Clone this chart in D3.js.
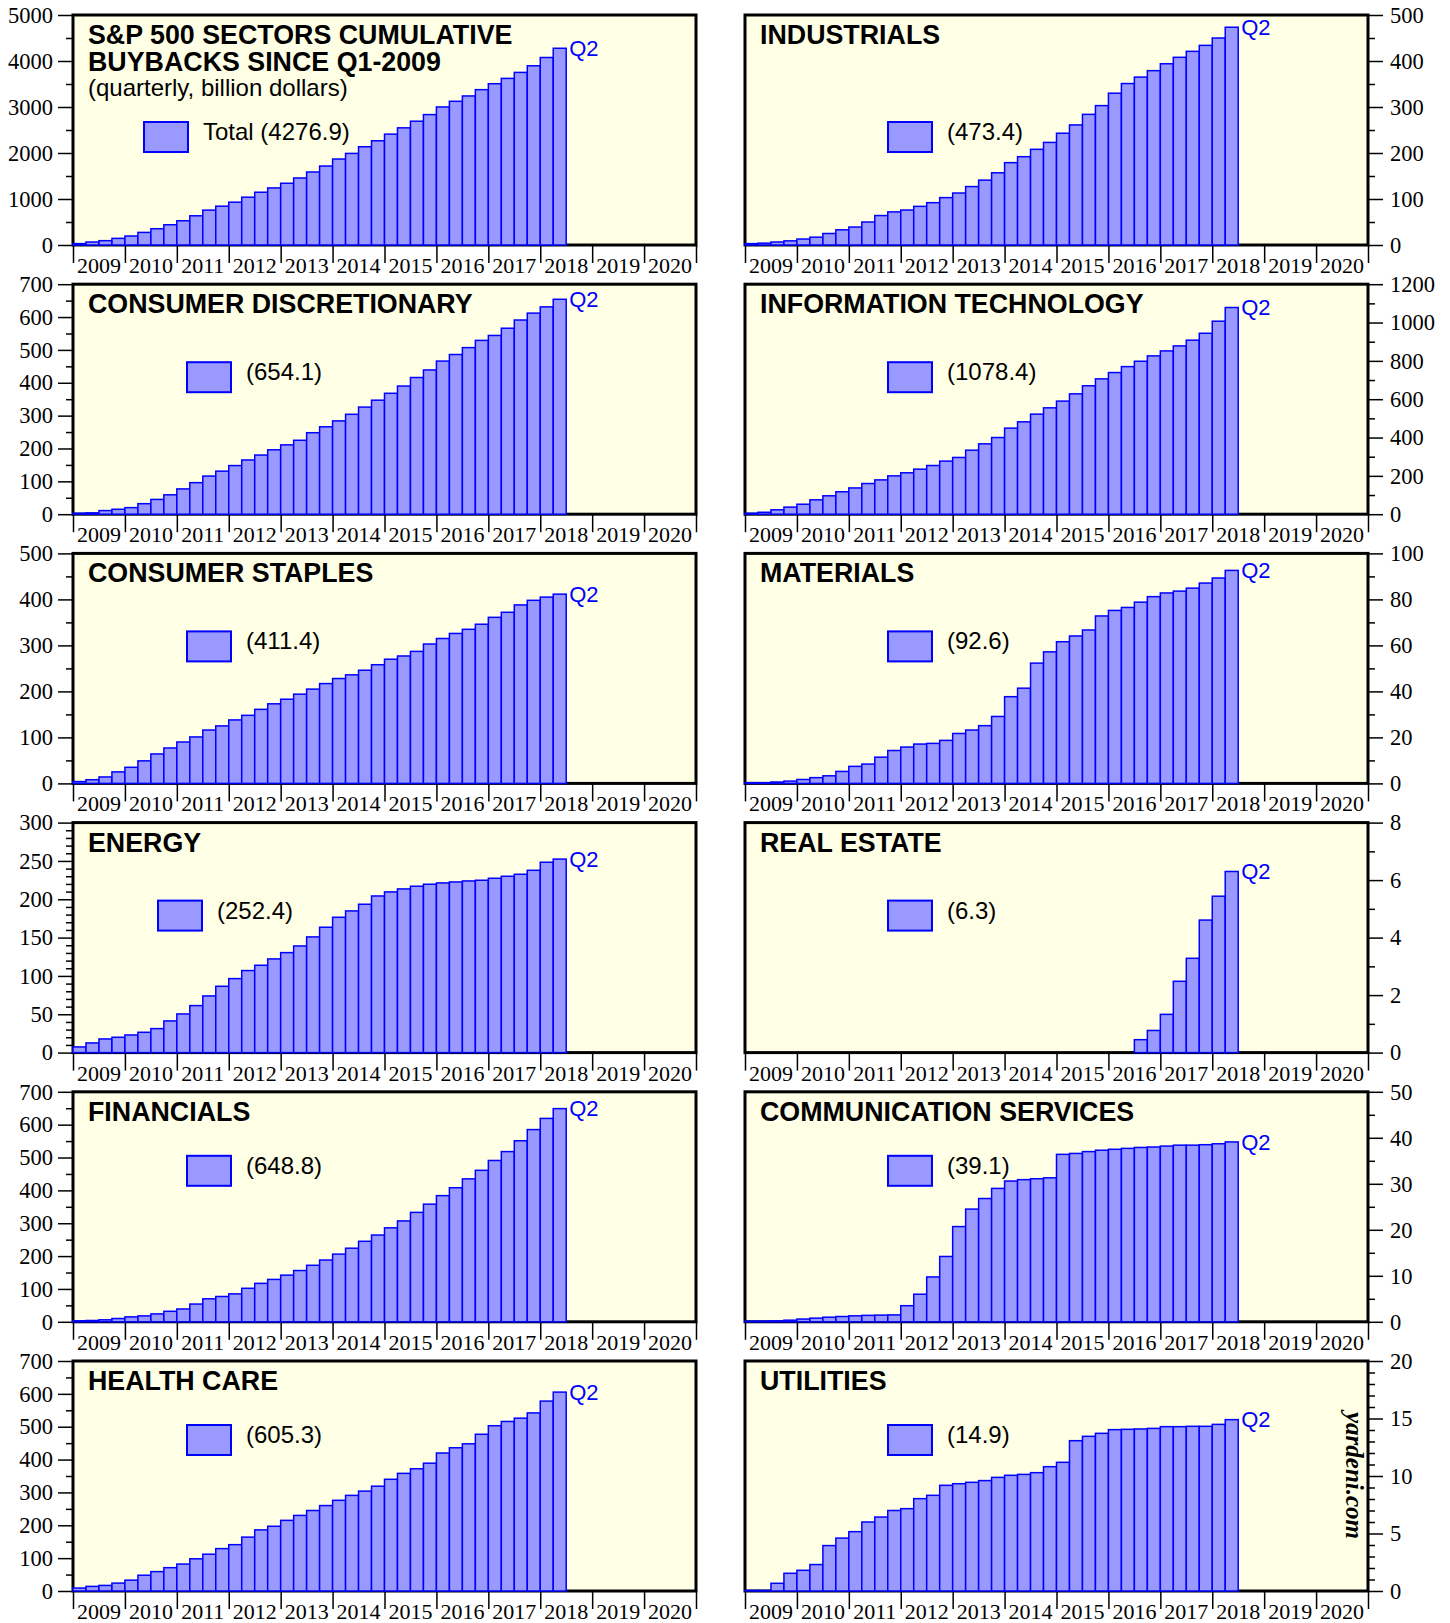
<!DOCTYPE html>
<html><head><meta charset="utf-8">
<script src="https://cdn.jsdelivr.net/npm/d3@7"></script>
<style>body{margin:0;background:#fff}svg{display:block}</style>
</head><body>
<script>
// ---- DATA (cumulative buybacks, billion $, Q1-2009 .. Q2-2018) ----
const years = [2009,2010,2011,2012,2013,2014,2015,2016,2017,2018,2019,2020];
const total = [30,65,94,144,195,274,354,440,527,635,758,844,931,1039,1147,1241,1342,1457,1587,1717,1869,1991,2136,2266,2410,2547,2691,2835,3001,3124,3240,3377,3506,3622,3752,3896,4076,4276.9];
const industrials = [3,4,6.5,9,13,17,25,33,39,50,64,72,76,84,92,103,113,127,141,157,179,192,208,223,243,261,284,303,330,351,365,379,394,408,421,434,450,473.4];
const consDisc = [3,4,11,15,20,32,45,59,77,96,116,131,148,165,180,196,211,225,248,266,284,304,326,347,368,390,416,439,466,486,507,529,544,566,591,612,631,654.1];
const infoTech = [5,10,23,37,52,75,96,117,137,160,179,200,216,235,254,277,296,334,367,400,449,482,522,555,590,628,670,706,739,770,798,826,852,878,908,944,1007,1078.4];
const consStaples = [4,8,14,25,35,49,64,77,90,101,116,125,138,148,161,173,183,194,205,217,228,236,246,258,270,277,287,303,315,326,335,346,361,372,388,398,405,411.4];
const materials = [0.3,0.3,0.6,1.0,1.7,2.5,3.3,5.2,7.4,8.4,11.4,14.3,15.8,17.1,17.4,18.7,21.7,23.2,25.1,29.1,37.7,41.4,52.3,57.2,61.6,64.1,66.7,72.8,75.2,76.5,78.8,81.2,82.8,83.6,84.9,87.1,89.3,92.6];
const energy = [7.4,12.6,17.8,20,23,26.5,31.3,41.3,50.4,61.3,73.9,86.5,96.5,107,113.9,122.2,130.4,139.1,150.9,163.5,176.5,184.8,193.5,204.3,209.6,213.5,217,219.6,221.3,222.6,223.9,224.8,227.4,230,232.6,237.8,248.3,252.4];
const realEstate = [null,null,null,null,null,null,null,null,null,null,null,null,null,null,null,null,null,null,null,null,null,null,null,null,null,null,null,null,null,null,0.45,0.77,1.33,2.48,3.28,4.61,5.44,6.3];
const financials = [3,4,6,10,15,18,24,32,39,54,70,77,85,102,117,129,142,156,172,188,206,224,245,264,286,307,333,358,384,408,435,461,491,518,551,585,619,648.8];
const commServices = [0.15,0.15,0.2,0.35,0.6,0.8,1.0,1.15,1.3,1.4,1.45,1.5,3.5,6.0,9.75,14.2,20.7,24.5,26.8,29.0,30.6,30.9,31.1,31.3,36.4,36.6,37.0,37.3,37.5,37.7,37.9,38.0,38.2,38.4,38.4,38.5,38.7,39.1];
const healthCare = [9,14,17,24,33,48,59,71,82,98,112,129,141,164,186,197,215,230,245,260,276,291,304,319,340,358,372,389,420,436,448,477,503,516,526,542,578,605.3];
const utilities = [0.05,0.05,0.67,1.54,1.8,2.3,3.95,4.6,5.16,6.0,6.43,7.0,7.16,8.03,8.32,9.19,9.33,9.45,9.6,9.88,10.06,10.14,10.29,10.81,11.19,13.07,13.45,13.71,14.03,14.06,14.09,14.14,14.29,14.29,14.32,14.32,14.49,14.9];
const legendLabels = ["Total (4276.9)","(473.4)","(654.1)","(1078.4)","(411.4)","(92.6)","(252.4)","(6.3)","(648.8)","(39.1)","(605.3)","(14.9)"];
const titles = [["S&P 500 SECTORS CUMULATIVE","BUYBACKS SINCE Q1-2009"],["INDUSTRIALS"],["CONSUMER DISCRETIONARY"],["INFORMATION TECHNOLOGY"],["CONSUMER STAPLES"],["MATERIALS"],["ENERGY"],["REAL ESTATE"],["FINANCIALS"],["COMMUNICATION SERVICES"],["HEALTH CARE"],["UTILITIES"]];
const subtitle = "(quarterly, billion dollars)";
const seriesList = [total,industrials,consDisc,infoTech,consStaples,materials,energy,realEstate,financials,commServices,healthCare,utilities];
// axis: [max, major step, minor step]
const axes = [[5000,1000,500],[500,100,50],[700,100,50],[1200,200,100],[500,100,50],[100,20,10],[300,50,10],[8,2,1],[700,100,50],[50,10,5],[700,100,50],[20,5,1]];

// ---- LAYOUT ----
const W=1450,H=1623;
const colX=[73,745], plotW=623, plotH=230, top0=15, pitch=269.2;
const legendX=[144,888,187,888,187,888,158,888,187,888,187,888];
const legendRowY=[107,78,78,78,64,64];
const BG="#ffffe6", FILL="#9999ff", BLUE="#0000ff";
const SERIF="'Liberation Serif','Times New Roman',serif";

const svg=d3.select("body").append("svg").attr("width",W).attr("height",H)
  .style("font-family","'Liberation Sans', Arial, sans-serif");

const nQ = years.length*4;
const x = d3.scaleLinear().domain([0,nQ]).range([0,plotW]);

seriesList.forEach((data,i)=>{
  const col=i%2,row=Math.floor(i/2);
  const x0=colX[col], y0=top0+row*pitch;
  const [ymax,major,minor]=axes[i];
  const y=d3.scaleLinear().domain([0,ymax]).range([plotH,0]);
  const g=svg.append("g").attr("transform",`translate(${x0},${y0})`);

  g.append("rect").attr("width",plotW).attr("height",plotH).attr("fill",BG);

  // y axes
  const majors=d3.range(0,ymax+major/2,major);
  const minors=d3.range(0,ymax+minor/2,minor).filter(v=>Math.abs(v/major-Math.round(v/major))>1e-6);
  const axMaj = (col===0?d3.axisLeft(y):d3.axisRight(y)).tickValues(majors).tickSize(15).tickPadding(col===0?5:7).tickFormat(d3.format("d"));
  const axMin = (col===0?d3.axisLeft(y):d3.axisRight(y)).tickValues(minors).tickSize(7).tickFormat("");
  const ag=g.append("g").attr("transform",`translate(${col===0?0:plotW},0)`);
  ag.call(axMaj);
  ag.append("g").call(axMin);
  ag.selectAll(".domain").remove();
  ag.selectAll("line").attr("stroke","#000").attr("stroke-width",1.5);
  ag.selectAll("text").attr("font-family",SERIF).attr("font-size",22.5).attr("fill","#000");

  // x axis: year boundaries
  const xg=g.append("g").attr("transform",`translate(0,${plotH})`);
  xg.call(d3.axisBottom(x).tickValues(d3.range(0,nQ+1,4)).tickSize(18).tickFormat(""));
  xg.selectAll(".domain").remove();
  xg.selectAll("line").attr("stroke","#000").attr("stroke-width",1.5);
  xg.selectAll("text.yr").data(years).enter().append("text").attr("class","yr")
    .attr("x",(d,k)=>x(k*4+2)).attr("y",28).attr("text-anchor","middle").attr("fill","#000")
    .attr("font-family",SERIF).attr("font-size",22).text(d=>d);

  // frame
  g.append("rect").attr("width",plotW).attr("height",plotH).attr("fill","none").attr("stroke","#000").attr("stroke-width",3);

  // bars
  const bars=data.map((v,k)=>({v,k})).filter(d=>d.v!==null);
  g.selectAll("rect.bar").data(bars).enter().append("rect").attr("class","bar")
    .attr("x",d=>x(d.k)).attr("width",x(1)-x(0))
    .attr("y",d=>y(d.v)).attr("height",d=>plotH-y(d.v))
    .attr("fill",FILL).attr("stroke",BLUE).attr("stroke-width",1.5);

  // Q2 label
  const last=data.length-1;
  g.append("text").attr("x",x(last+1)+3).attr("y",y(data[last])).attr("dy","0.35em")
    .attr("font-size",22).attr("fill",BLUE).text("Q2");

  // title
  titles[i].forEach((t,j)=>{
    g.append("text").attr("x",15).attr("y",29+j*27).attr("font-size",26.8).attr("font-weight","bold").attr("fill","#000").text(t);
  });
  if(i===0){
    g.append("text").attr("x",15).attr("y",81).attr("font-size",24).attr("fill","#000").text(subtitle);
  }

  // legend
  const ly = legendRowY[row];
  g.append("rect").attr("x",legendX[i]-x0).attr("y",ly).attr("width",44).attr("height",30)
    .attr("fill",FILL).attr("stroke",BLUE).attr("stroke-width",2);
  g.append("text").attr("x",legendX[i]-x0+59).attr("y",ly+18).attr("font-size",24).attr("fill","#000").text(legendLabels[i]);
});

// watermark
svg.append("text").attr("transform","translate(1346,1412) rotate(90)")
  .attr("font-family",SERIF).attr("font-style","italic").attr("font-weight","bold")
  .attr("font-size",25).attr("fill","#000").text("yardeni.com");
</script>
</body></html>
